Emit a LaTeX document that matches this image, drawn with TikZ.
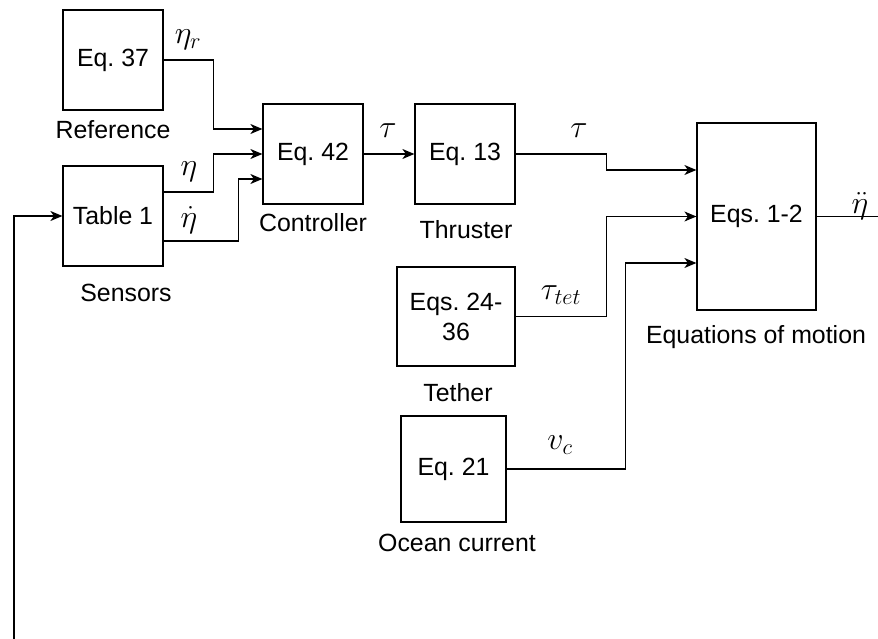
\RequirePackage{fix-cm}
\documentclass[tikz,border=0pt]{standalone}
\usepackage{fontspec}
\setmainfont{Liberation Sans}
\frenchspacing
\usetikzlibrary{arrows.meta,positioning,calc}
\tikzset{
    block/.style={draw, line width=1.2pt, minimum width=100pt, minimum height=100pt, inner sep=2pt, align=center},
    signal/.style={-{Stealth[length=12pt,width=10pt,inset=3.5pt]}, line width=1.2pt},
    wire/.style={line width=1.2pt},
    sym/.style={font=\fontsize{32}{36}\selectfont}
}

\begin{document}
\begin{tikzpicture}[x=1pt, y=-1pt, font=\Huge]

\useasboundingbox (0,0) rectangle (878,639);

% Bloques
\node[block] (ref) at (113,60) {Eq. 37};
\node[block] (sens) at (113,216) {Table 1};
\node[block] (ctrl) at (313,154) {Eq. 42};
\node[block] (thr) at (465,154) {Eq. 13};
\node[block, minimum width=118pt, minimum height=99pt] (teth) at (456,316.5) {Eqs. 24-\\36};
\node[block, minimum width=105pt, minimum height=106pt] (ocean) at (453.5,469) {Eq. 21};
\node[block, minimum width=119pt, minimum height=187pt] (eom) at (756.5,216.5) {Eqs. 1-2};

% Nombres
\node (refcap) at (113,130) {Reference};
\node (senscap) at (126,293) {Sensors};
\node (ctrlcap) at (313,223) {Controller};
\node (thrcap) at (466,230) {Thruster};
\node (tethcap) at (458,393) {Tether};
\node (oceancap) at (457,543) {Ocean current};
\node (eomcap) at (756,337) {Equations of motion};

% Senales
\draw[signal] (ref.east) -- ++(50,0) |- ($(ctrl.west)+(0,-25)$);
\draw[signal] ($(sens.east)+(0,-24)$) -- ++(50,0) |- (ctrl.west);
\draw[signal] ($(sens.east)+(0,25)$) -- ++(75,0) |- ($(ctrl.west)+(0,25)$);
\draw[signal] (ctrl) -- (thr);
\draw[signal] (thr.east) -- ++(91,0) |- ($(eom.west)+(0,-46.5)$);
\draw[signal] (teth.east) -- ++(91,0) |- (eom.west);
\draw[signal] (ocean.east) -- ++(119,0) |- ($(eom.west)+(0,46.5)$);

% Salida y realimentacion
\coordinate (outend) at (878,216.5);
\coordinate (fbstart) at (14,639);
\draw[wire] (eom.east) -- (outend);
\draw[signal] (fbstart) |- (sens.west);

% Etiquetas
\node[sym] (etar) at (188,40) {$\eta_r$};
\node[sym] (eta) at (189,172) {$\eta$};
\node[sym] (etadot) at (189,220) {$\dot{\eta}$};
\node[sym] (tauc) at (388,131) {$\tau$};
\node[sym] (taut) at (579,131) {$\tau$};
\node[sym] (tautet) at (561,295) {$\tau_{tet}$};
\node[sym] (vc) at (560,445) {$v_c$};
\node[sym] (etaddot) at (860,206) {$\ddot{\eta}$};

\end{tikzpicture}
\end{document}
